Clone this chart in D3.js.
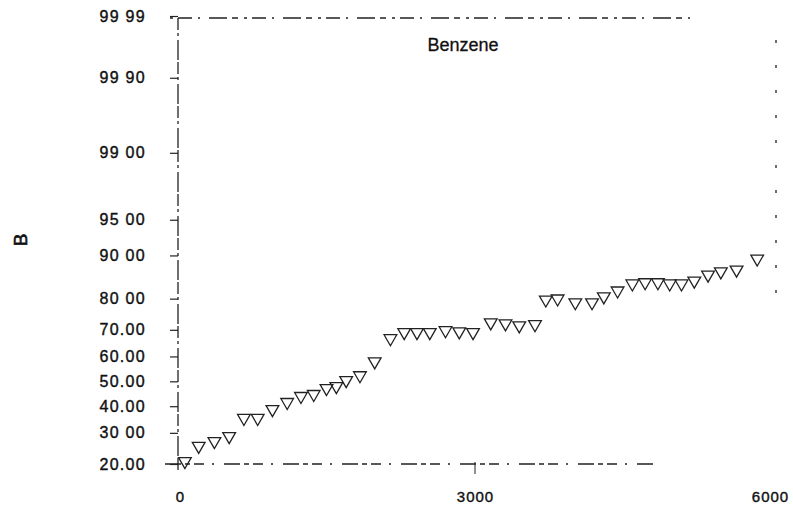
<!DOCTYPE html>
<html>
<head>
<meta charset="UTF-8">
<title>Benzene</title>
<script src="https://cdnjs.cloudflare.com/ajax/libs/d3/7.8.5/d3.min.js"></script>
<style>
body { margin: 0; background: white; }
svg { display: block; font-family: 'Liberation Sans', Arial, sans-serif; }
</style>
</head>
<body>
<script>
// values
var xValues = [50, 190, 350, 500, 650, 790, 940, 1090, 1230, 1360, 1490, 1590, 1690, 1830,
               1980, 2140, 2280, 2410, 2540, 2700, 2840, 2980, 3160, 3310, 3450, 3610,
               3720, 3840, 4020, 4190, 4310, 4450, 4600, 4730, 4860, 4980, 5100, 5230,
               5370, 5500, 5660, 5870];
var yValues = [20.8, 25.5, 27.1, 28.8, 35.4, 35.4, 38.8, 41.6, 44.0, 44.8, 47.2, 48.0, 50.4, 52.4,
               58.0, 66.9, 69.1, 69.1, 69.1, 69.8, 69.4, 69.1, 72.5, 72.2, 71.5, 71.9,
               79.7, 80.0, 78.9, 78.9, 80.6, 82.2, 84.0, 84.3, 84.3, 84.0, 84.0, 84.7,
               86.1, 86.8, 87.2, 89.4];
var xTicks = [0, 3000, 6000];
var yTicks = [20, 30, 40, 50, 60, 70, 80, 90, 95, 99, 99.9, 99.99];
var yTickLabels = ["20.00", "30 00", "40.00", "50.00", "60.00", "70.00", "80 00", "90 00",
                   "95 00", "99 00", "99 90", "99 99"];

var width = 793, height = 512;

// inverse normal cdf (Acklam) for the probability axis
function probit(p) {
    var a = [-39.69683028665376, 220.9460984245205, -275.9285104469687, 138.3577518672690, -30.66479806614716, 2.506628277459239];
    var b = [-54.47609879822406, 161.5858368580409, -155.6989798598866, 66.80131188771972, -13.28068155288572];
    var c = [-0.007784894002430293, -0.3223964580411365, -2.400758277161838, -2.549732539343734, 4.374664141464968, 2.938163982698783];
    var d = [0.007784695709041462, 0.3224671290700398, 2.445134137142996, 3.754408661907416];
    var q, r, pl = 0.02425;
    if (p < pl) {
        q = Math.sqrt(-2 * Math.log(p));
        return (((((c[0]*q+c[1])*q+c[2])*q+c[3])*q+c[4])*q+c[5]) / ((((d[0]*q+d[1])*q+d[2])*q+d[3])*q+1);
    }
    if (p > 1 - pl) {
        q = Math.sqrt(-2 * Math.log(1 - p));
        return -(((((c[0]*q+c[1])*q+c[2])*q+c[3])*q+c[4])*q+c[5]) / ((((d[0]*q+d[1])*q+d[2])*q+d[3])*q+1);
    }
    q = p - 0.5; r = q * q;
    return (((((a[0]*r+a[1])*r+a[2])*r+a[3])*r+a[4])*r+a[5])*q / (((((b[0]*r+b[1])*r+b[2])*r+b[3])*r+b[4])*r+1);
}

var svg = d3.select("body").append("svg")
    .attr("width", width)
    .attr("height", height);

var x = d3.scaleLinear().domain([0, 6000]).range([180, 770]);
var yz = d3.scaleLinear().domain([probit(0.20), probit(0.9999)]).range([464, 16]);
function y(p) { return yz(probit(p / 100)); }

// (window.top is read-only, so not "top")
var frameL = 178, frameR = 776, frameT = y(99.99) + 2, frameB = y(20);

// broken frame, like the scanned original
var frame = svg.append("g").attr("stroke", "#222").attr("fill", "none");
frame.append("line")
    .attr("x1", frameL).attr("x2", frameL).attr("y1", frameT).attr("y2", frameB + 8)
    .attr("stroke-width", 1.3)
    .attr("stroke-dasharray", "12,3,3,4,20,2");
frame.append("line")
    .attr("x1", 170).attr("x2", 690).attr("y1", frameT).attr("y2", frameT)
    .attr("stroke-width", 1.3)
    .attr("stroke-dasharray", "3,5,14,6,2,9,18,5,6,6");
frame.append("line")
    .attr("x1", 165).attr("x2", 655).attr("y1", frameB).attr("y2", frameB)
    .attr("stroke-width", 1.3)
    .attr("stroke-dasharray", "16,4,5,4,10,8,2,10");
frame.append("line")
    .attr("x1", frameR).attr("x2", frameR).attr("y1", frameT + 22).attr("y2", 305)
    .attr("stroke-width", 1.3)
    .attr("stroke-dasharray", "3,22");

var labelFont = "'Liberation Sans', Arial, sans-serif";

// y axis on the probit scale
var yAxis = svg.append("g")
    .attr("transform", "translate(" + frameL + ",0)")
    .call(d3.axisLeft(yz)
        .tickValues(yTicks.map(function(v) { return probit(v / 100); }))
        .tickFormat(function(d, i) { return yTickLabels[i]; })
        .tickSize(8)
        .tickPadding(24));
yAxis.select(".domain").remove();
yAxis.selectAll("line").attr("stroke", "#222").attr("stroke-width", 1.2);
yAxis.selectAll("text")
    .attr("font-size", 16)
    .attr("letter-spacing", 1.3)
    .attr("fill", "#111")
    .attr("stroke", "#111")
    .attr("stroke-width", 0.4)
    .attr("font-family", labelFont);

var xAxis = svg.append("g")
    .attr("transform", "translate(0," + frameB + ")")
    .call(d3.axisBottom(x)
        .tickValues(xTicks)
        .tickFormat(d3.format("d"))
        .tickSize(0)
        .tickPadding(27));
xAxis.select(".domain").remove();
xAxis.selectAll("text")
    .attr("font-size", 15)
    .attr("letter-spacing", 1)
    .attr("fill", "#111")
    .attr("stroke", "#111")
    .attr("stroke-width", 0.4)
    .attr("font-family", labelFont);
// only the middle tick shows a mark
svg.append("line")
    .attr("x1", x(3000)).attr("x2", x(3000))
    .attr("y1", frameB - 2).attr("y2", frameB + 10)
    .attr("stroke", "#222");

// axis title, rotated
svg.append("text")
    .attr("transform", "translate(27,240) rotate(-90)")
    .attr("text-anchor", "middle")
    .attr("font-size", 19)
    .attr("fill", "#111")
    .attr("stroke", "#111")
    .attr("stroke-width", 0.6)
    .text("B");

svg.append("text")
    .attr("x", 463)
    .attr("y", 51)
    .attr("text-anchor", "middle")
    .attr("font-size", 18)
    .attr("fill", "#111")
    .attr("stroke", "#111")
    .attr("stroke-width", 0.3)
    .text("Benzene");

// down-pointing triangles
var tri = d3.symbol().type(d3.symbolTriangle).size(70);
svg.append("g").selectAll("path")
    .data(xValues)
    .enter()
    .append("path")
    .attr("d", tri)
    .attr("transform", function(d, i) {
        return "translate(" + x(d) + "," + y(yValues[i]) + ") rotate(180)";
    })
    .attr("fill", "none")
    .attr("stroke", "#222")
    .attr("stroke-width", 1.3);
</script>
</body>
</html>
